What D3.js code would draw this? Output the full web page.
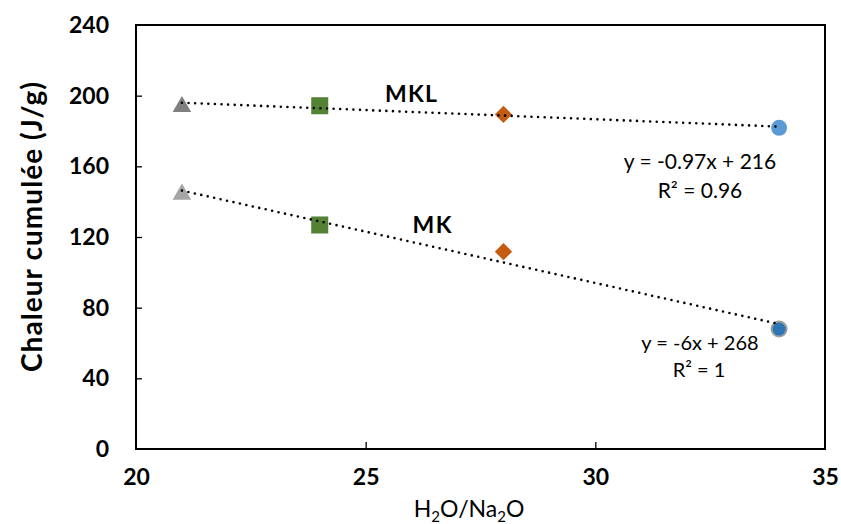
<!DOCTYPE html>
<html>
<head>
<meta charset="utf-8">
<script src="https://cdn.jsdelivr.net/npm/d3@7"></script>
<style>
  html, body { margin: 0; padding: 0; background: #fff; }
  svg { display: block; }
  text { font-family: Lato, "Open Sans", sans-serif; fill: #000; }
</style>
</head>
<body>
<script>
// ---- Data ----
const ratios = [21, 24, 28, 34];                 // H2O/Na2O
const mklValues = [194.6, 194.3, 189.4, 181.8];  // MKL (J/g)
const mkValues = [145.0, 126.8, 111.7, 67.9];    // MK (J/g)
const markerShapes = ["triangle", "square", "diamond", "circle"];
const mklColors = ["#7F7F7F", "#548235", "#C55A11", "#5B9BD5"];
const mkColors = ["#A5A5A5", "#548235", "#C55A11", "#2E75B6"];
const xTicks = [20, 25, 30, 35];
const yTicks = [0, 40, 80, 120, 160, 200, 240];
const mklEquation = ["y = -0.97x + 216", "R² = 0.96"];
const mkEquation = ["y = -6x + 268", "R² = 1"];

const W = 841, H = 524;
const margin = { left: 136, right: 16, top: 25, bottom: 75 };

const svg = d3.select("body").append("svg").attr("width", W).attr("height", H);

const x = d3.scaleLinear().domain([20, 35]).range([margin.left, W - margin.right]);
const y = d3.scaleLinear().domain([0, 240]).range([H - margin.bottom, margin.top]);

// axes (inward ticks)
const xAxis = svg.append("g").attr("transform", `translate(0,${y(0)})`)
  .call(d3.axisBottom(x).tickValues(xTicks).tickSize(-7).tickPadding(20).tickFormat(d3.format("d")));
const yAxis = svg.append("g").attr("transform", `translate(${x(20)},0)`)
  .call(d3.axisLeft(y).tickValues(yTicks).tickSize(-6).tickPadding(27).tickFormat(d3.format("d")));
[xAxis, yAxis].forEach(g => {
  g.select(".domain").remove();
  g.selectAll(".tick line").attr("stroke", "#000").attr("stroke-width", 1.3);
  g.selectAll(".tick text").attr("font-size", 23).attr("font-weight", "bold").attr("fill", "#000");
});
xAxis.selectAll(".tick line").filter(d => d === 20 || d === 35).remove();
yAxis.selectAll(".tick line").filter(d => d === 0 || d === 240).remove();
xAxis.selectAll(".tick text").attr("dy", "0.71em");

// frame
svg.append("rect")
  .attr("x", x(20)).attr("y", y(240))
  .attr("width", x(35) - x(20)).attr("height", y(0) - y(240))
  .attr("fill", "none").attr("stroke", "#000").attr("stroke-width", 2);

// markers
function drawMarker(g, shape, cx, cy, color, outline) {
  if (shape === "triangle") {
    g.append("path").attr("d", d3.symbol(d3.symbolTriangle, 150)())
      .attr("transform", `translate(${cx},${cy + 1.5})`).attr("fill", color);
  } else if (shape === "square") {
    g.append("path").attr("d", d3.symbol(d3.symbolSquare, 290)())
      .attr("transform", `translate(${cx},${cy})`).attr("fill", color);
  } else if (shape === "diamond") {
    g.append("path").attr("d", d3.symbol(d3.symbolSquare, 150)())
      .attr("transform", `translate(${cx},${cy}) rotate(45)`).attr("fill", color);
  } else {
    g.append("circle").attr("cx", cx).attr("cy", cy).attr("r", outline ? 7.5 : 8)
      .attr("fill", color)
      .attr("stroke", outline ? "#9E9E9E" : "none").attr("stroke-width", outline ? 2 : 0);
  }
}
const markers = svg.append("g");
ratios.forEach((r, i) => drawMarker(markers, markerShapes[i], x(r), y(mklValues[i]), mklColors[i], false));
ratios.forEach((r, i) => drawMarker(markers, markerShapes[i], x(r), y(mkValues[i]), mkColors[i], i === 3));

// linear trendlines (least squares)
function fit(xs, ys) {
  const mx = d3.mean(xs), my = d3.mean(ys);
  const sxy = d3.sum(xs, (v, i) => (v - mx) * (ys[i] - my));
  const sxx = d3.sum(xs, v => (v - mx) * (v - mx));
  const b = sxy / sxx, a = my - b * mx;
  return v => a + b * v;
}
[mklValues, mkValues].forEach(vals => {
  const f = fit(ratios, vals);
  const x0 = d3.min(ratios), x1 = d3.max(ratios);
  svg.append("line")
    .attr("x1", x(x0)).attr("y1", y(f(x0)))
    .attr("x2", x(x1)).attr("y2", y(f(x1)))
    .attr("stroke", "#000").attr("stroke-width", 2.6)
    .attr("stroke-linecap", "round").attr("stroke-dasharray", "0 6.6");
});

// series labels
svg.append("text").attr("x", 411).attr("y", 102).attr("text-anchor", "middle")
  .attr("font-size", 23).attr("font-weight", "bold")
  .attr("textLength", 52).attr("lengthAdjust", "spacing").text("MKL");
svg.append("text").attr("x", 432).attr("y", 233).attr("text-anchor", "middle")
  .attr("font-size", 23).attr("font-weight", "bold")
  .attr("textLength", 39).attr("lengthAdjust", "spacing").text("MK");

// equations
function eqLine(txt, cx, yy, size) {
  svg.append("text").attr("x", cx).attr("y", yy).attr("text-anchor", "middle")
    .attr("font-size", size).text(txt);
}
eqLine(mklEquation[0], 700, 169, 21);
eqLine(mklEquation[1], 700, 198, 21);
eqLine(mkEquation[0], 700, 350, 20);
eqLine(mkEquation[1], 699, 377, 20);

// axis titles
svg.append("text")
  .attr("transform", `translate(42,227) rotate(-90)`)
  .attr("text-anchor", "middle").attr("font-size", 28).attr("font-weight", "bold")
  .attr("textLength", 290).attr("lengthAdjust", "spacing")
  .text("Chaleur cumulée (J/g)");

const xt = svg.append("text").attr("x", 469).attr("y", 517).attr("text-anchor", "middle")
  .attr("font-size", 23);
xt.append("tspan").text("H");
xt.append("tspan").attr("font-size", 15).attr("dy", 5).text("2");
xt.append("tspan").attr("dy", -5).text("O/Na");
xt.append("tspan").attr("font-size", 15).attr("dy", 5).text("2");
xt.append("tspan").attr("dy", -5).text("O");
</script>
</body>
</html>
